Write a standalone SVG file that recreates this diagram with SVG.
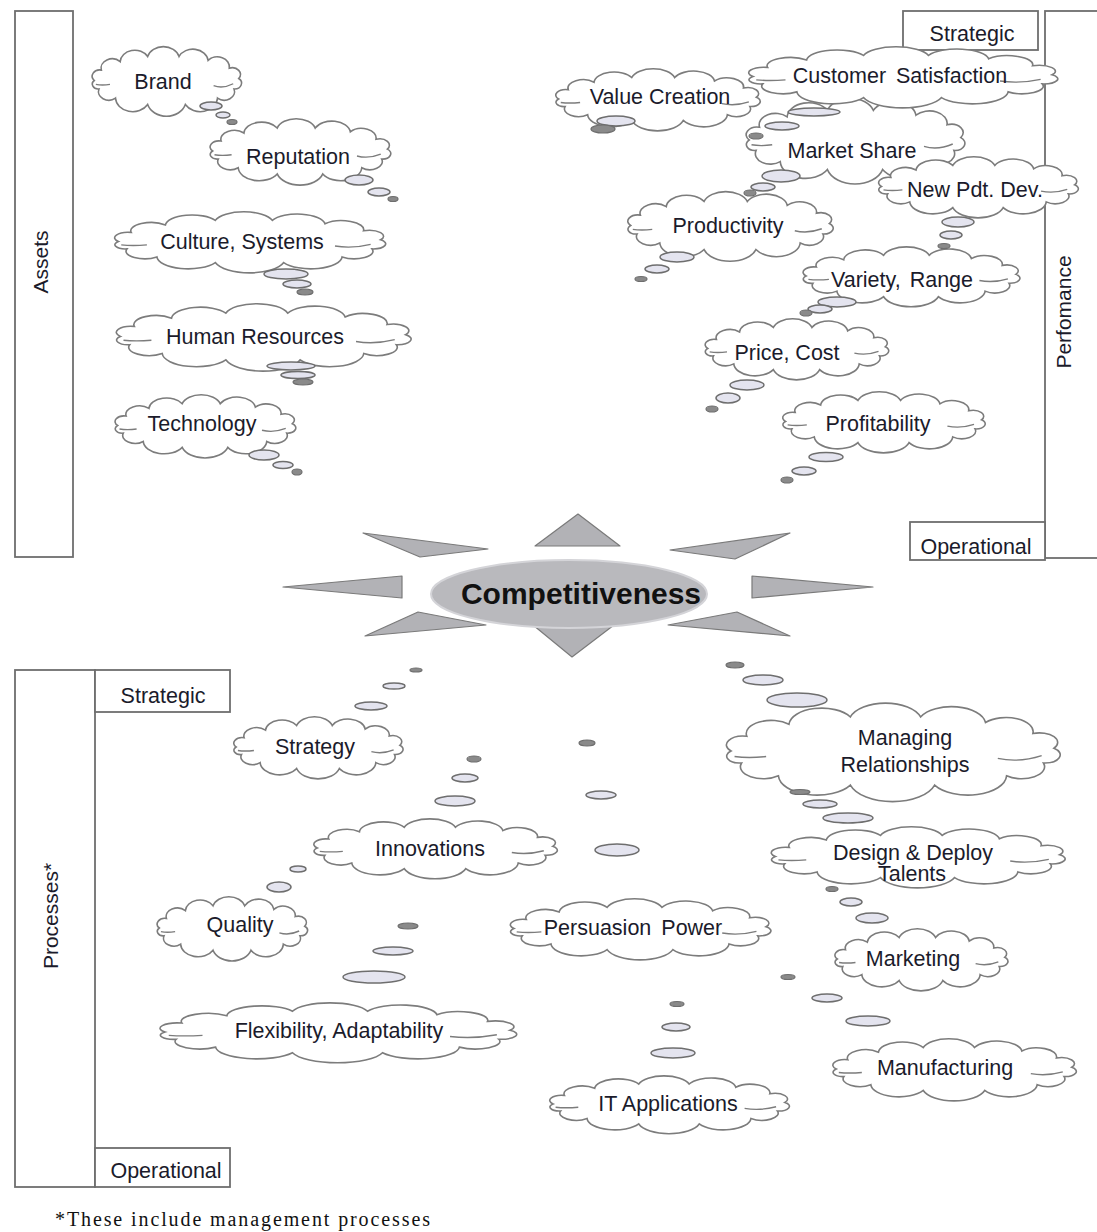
<svg xmlns="http://www.w3.org/2000/svg" xmlns:xlink="http://www.w3.org/1999/xlink" width="1097" height="1232" viewBox="0 0 1097 1232">
  <style>
    .frame { fill: none; stroke: #6e6e6e; stroke-width: 1.8; }
    .tag { fill: #ffffff; stroke: #6e6e6e; stroke-width: 1.8; }
    .lb { font-family: "Liberation Sans", Arial, sans-serif; font-size: 21.5px; fill: #1b1b2b; text-anchor: middle; }
    .vl { font-family: "Liberation Sans", Arial, sans-serif; font-size: 21px; fill: #1b1b2b; text-anchor: middle; }
    .ray { fill: #b2b2b6; stroke: #7a7a7a; stroke-width: 1.2; stroke-linejoin: round; }
    .hub { fill: #b9b9bd; stroke: #d4d4d8; stroke-width: 2; }
    .title { font-family: "Liberation Sans", Arial, sans-serif; font-size: 30px; font-weight: bold; fill: #111111; text-anchor: middle; }
    .note { font-family: "Liberation Serif", "Times New Roman", serif; font-size: 20px; fill: #111111; }
    .bub { fill: #e4e4ef; stroke: #6e6e6e; stroke-width: 1.5; }
    .dot { fill: #8a8a8a; stroke: #6e6e6e; stroke-width: 1.2; }
  </style>
  <defs>
    <!-- cloud outline in a 200 x 100 box; stroke stays constant when scaled -->
    <g id="cloud">
      <path fill="#ffffff" stroke="#7c7c7c" stroke-width="1.6" vector-effect="non-scaling-stroke"
            d="M 8 50 A 9.6 9.6 0 0 1 17 34 A 14.2 14.2 0 0 1 41 21 A 18.7 18.7 0 0 1 76 13 A 20.8 20.8 0 0 1 116 13 A 19.5 19.5 0 0 1 153 19 A 15.4 15.4 0 0 1 180 31 A 10.4 10.4 0 0 1 192 47 A 8.9 8.9 0 0 1 186 63 A 13.1 13.1 0 0 1 165 77 A 22 22 0 0 1 124 87 A 25 25 0 0 1 76 87 A 22 22 0 0 1 35 77 A 13.1 13.1 0 0 1 14 63 A 7.5 7.5 0 0 1 8 50 Z"/>
      <path fill="none" stroke="#7c7c7c" stroke-width="1.4" vector-effect="non-scaling-stroke"
            d="M 10 56 Q 18 58 28 56 M 160 58 Q 172 63 185 55"/>
    </g>
  </defs>

  <!-- side frames -->
  <g id="assets-frame">
    <rect class="frame" x="15" y="11" width="58" height="546"/>
    <text class="vl" transform="translate(40,262) rotate(-90)" dy="7.5">Assets</text>
  </g>
  <g id="performance-frame">
    <rect class="frame" x="1045" y="11" width="70" height="547"/>
    <rect class="tag" x="903" y="11" width="135" height="39"/>
    <text class="lb" x="972" y="41">Strategic</text>
    <rect class="tag" x="910" y="522" width="135" height="38"/>
    <text class="lb" x="976" y="554">Operational</text>
    <text class="vl" transform="translate(1063,312) rotate(-90)" dy="7.5">Perfomance</text>
  </g>
  <g id="processes-frame">
    <rect class="frame" x="15" y="670" width="80" height="517"/>
    <rect class="tag" x="95" y="670" width="135" height="42"/>
    <text class="lb" x="163" y="703">Strategic</text>
    <rect class="tag" x="95" y="1148" width="135" height="39"/>
    <text class="lb" x="166" y="1178">Operational</text>
    <text class="vl" transform="translate(50,916) rotate(-90)" dy="7.5">Processes*</text>
  </g>

  <!-- central hub with rays -->
  <g id="competitiveness">
    <polygon class="ray" points="578,514 535,546 620,546"/>
    <polygon class="ray" points="533,625 614,625 572,657"/>
    <polygon class="ray" points="283,587 402,576 402,598"/>
    <polygon class="ray" points="873,587 752,576 752,598"/>
    <polygon class="ray" points="363,533 488,549 420,557"/>
    <polygon class="ray" points="790,533 670,550 735,559"/>
    <polygon class="ray" points="365,636 418,612 486,625"/>
    <polygon class="ray" points="790,636 737,612 668,625"/>
    <ellipse class="hub" cx="569" cy="594" rx="138" ry="34"/>
    <text class="title" x="581" y="604">Competitiveness</text>
  </g>

  <!-- assets -->
  <g id="brand"><use xlink:href="#cloud" transform="translate(88,48) scale(0.785,0.65)"/><text class="lb" x="163" y="89">Brand</text></g>
  <g id="reputation"><use xlink:href="#cloud" transform="translate(205,120) scale(0.95,0.62)"/><text class="lb" x="298" y="164">Reputation</text></g>
  <g id="culture"><use xlink:href="#cloud" transform="translate(107,213) scale(1.425,0.57)"/><text class="lb" x="242" y="249">Culture, Systems</text></g>
  <g id="human-resources"><use xlink:href="#cloud" transform="translate(108,305) scale(1.55,0.63)"/><text class="lb" x="255" y="344">Human Resources</text></g>
  <g id="technology"><use xlink:href="#cloud" transform="translate(110,396) scale(0.95,0.59)"/><text class="lb" x="202" y="431">Technology</text></g>

  <!-- performance -->
  <g id="market-share"><use xlink:href="#cloud" transform="translate(740,100) scale(1.15,0.8)"/><text class="lb" x="852" y="158">Market Share</text></g>
  <g id="customer-satisfaction"><use xlink:href="#cloud" transform="translate(740,48) scale(1.625,0.57)"/><text class="lb" x="900" y="83" word-spacing="4">Customer Satisfaction</text></g>
  <g id="value-creation"><use xlink:href="#cloud" transform="translate(550,70) scale(1.075,0.58)"/><text class="lb" x="660" y="104">Value Creation</text></g>
  <g id="new-product"><use xlink:href="#cloud" transform="translate(873,158) scale(1.05,0.57)"/><text class="lb" x="975" y="197">New Pdt. Dev.</text></g>
  <g id="productivity"><use xlink:href="#cloud" transform="translate(622,193) scale(1.08,0.65)"/><text class="lb" x="728" y="233">Productivity</text></g>
  <g id="variety"><use xlink:href="#cloud" transform="translate(797,248) scale(1.14,0.56)"/><text class="lb" x="902" y="287" word-spacing="3">Variety, Range</text></g>
  <g id="price"><use xlink:href="#cloud" transform="translate(700,320) scale(0.965,0.57)"/><text class="lb" x="787" y="360">Price, Cost</text></g>
  <g id="profitability"><use xlink:href="#cloud" transform="translate(777,393) scale(1.065,0.57)"/><text class="lb" x="878" y="431">Profitability</text></g>

  <!-- processes -->
  <g id="strategy"><use xlink:href="#cloud" transform="translate(229,718) scale(0.89,0.58)"/><text class="lb" x="315" y="754">Strategy</text></g>
  <g id="innovations"><use xlink:href="#cloud" transform="translate(307,820) scale(1.28,0.56)"/><text class="lb" x="430" y="856">Innovations</text></g>
  <g id="quality"><use xlink:href="#cloud" transform="translate(153,898) scale(0.79,0.6)"/><text class="lb" x="240" y="932">Quality</text></g>
  <g id="flexibility"><use xlink:href="#cloud" transform="translate(150,1004) scale(1.875,0.56)"/><text class="lb" x="339" y="1038">Flexibility, Adaptability</text></g>
  <g id="persuasion"><use xlink:href="#cloud" transform="translate(503,900) scale(1.37,0.57)"/><text class="lb" x="633" y="935" word-spacing="4">Persuasion Power</text></g>
  <g id="it-applications"><use xlink:href="#cloud" transform="translate(543,1077) scale(1.26,0.54)"/><text class="lb" x="668" y="1111">IT Applications</text></g>
  <g id="relationships"><use xlink:href="#cloud" transform="translate(717,705) scale(1.755,0.92)"/><text class="lb" x="905" y="745">Managing</text><text class="lb" x="905" y="772">Relationships</text></g>
  <g id="talents"><use xlink:href="#cloud" transform="translate(763,828) scale(1.545,0.57)"/><text class="lb" x="913" y="860">Design &amp; Deploy</text><text class="lb" x="912" y="881">Talents</text></g>
  <g id="marketing"><use xlink:href="#cloud" transform="translate(830,930) scale(0.91,0.58)"/><text class="lb" x="913" y="966">Marketing</text></g>
  <g id="manufacturing"><use xlink:href="#cloud" transform="translate(826,1040) scale(1.28,0.58)"/><text class="lb" x="945" y="1075">Manufacturing</text></g>

  <!-- thought-bubble trails -->
  <g id="connectors">
    <ellipse class="bub" cx="211" cy="106" rx="11" ry="4"/><ellipse class="bub" cx="223" cy="115" rx="7" ry="3"/><ellipse class="dot" cx="232" cy="122" rx="5" ry="2.5"/>
    <ellipse class="bub" cx="359" cy="180" rx="14" ry="5"/><ellipse class="bub" cx="379" cy="192" rx="11" ry="4"/><ellipse class="dot" cx="393" cy="199" rx="5" ry="2.5"/>
    <ellipse class="bub" cx="286" cy="274" rx="22" ry="5"/><ellipse class="bub" cx="297" cy="284" rx="14" ry="4"/><ellipse class="dot" cx="305" cy="292" rx="8" ry="3"/>
    <ellipse class="bub" cx="291" cy="366" rx="24" ry="4"/><ellipse class="bub" cx="298" cy="375" rx="17" ry="3.5"/><ellipse class="dot" cx="303" cy="382" rx="10" ry="3"/>
    <ellipse class="bub" cx="264" cy="455" rx="15" ry="5"/><ellipse class="bub" cx="283" cy="465" rx="10" ry="3.5"/><ellipse class="dot" cx="297" cy="472" rx="5" ry="3"/>
    <ellipse class="bub" cx="616" cy="121" rx="19" ry="5"/><ellipse class="dot" cx="603" cy="129" rx="12" ry="4"/>
    <ellipse class="bub" cx="814" cy="112" rx="26" ry="4"/><ellipse class="bub" cx="782" cy="126" rx="17" ry="4"/><ellipse class="dot" cx="756" cy="136" rx="7" ry="3"/>
    <ellipse class="bub" cx="781" cy="176" rx="19" ry="6"/><ellipse class="bub" cx="763" cy="187" rx="12" ry="4"/><ellipse class="dot" cx="750" cy="193" rx="6" ry="3"/>
    <ellipse class="bub" cx="958" cy="222" rx="16" ry="5"/><ellipse class="bub" cx="951" cy="235" rx="11" ry="4"/><ellipse class="dot" cx="944" cy="246" rx="6" ry="2.5"/>
    <ellipse class="bub" cx="677" cy="257" rx="17" ry="5"/><ellipse class="bub" cx="657" cy="269" rx="12" ry="4"/><ellipse class="dot" cx="641" cy="279" rx="6" ry="2.5"/>
    <ellipse class="bub" cx="837" cy="302" rx="19" ry="5"/><ellipse class="bub" cx="820" cy="309" rx="12" ry="4"/><ellipse class="dot" cx="806" cy="313" rx="6" ry="3"/>
    <ellipse class="bub" cx="747" cy="385" rx="17" ry="5"/><ellipse class="bub" cx="728" cy="398" rx="12" ry="5"/><ellipse class="dot" cx="712" cy="409" rx="6" ry="3"/>
    <ellipse class="bub" cx="826" cy="457" rx="17" ry="4.5"/><ellipse class="bub" cx="804" cy="471" rx="12" ry="4"/><ellipse class="dot" cx="787" cy="480" rx="6" ry="3"/>
    <ellipse class="bub" cx="371" cy="706" rx="16" ry="4"/><ellipse class="bub" cx="394" cy="686" rx="11" ry="3"/><ellipse class="dot" cx="416" cy="670" rx="6" ry="2"/>
    <ellipse class="bub" cx="455" cy="801" rx="20" ry="5"/><ellipse class="bub" cx="465" cy="778" rx="13" ry="4"/><ellipse class="dot" cx="474" cy="759" rx="7" ry="3"/>
    <ellipse class="bub" cx="279" cy="887" rx="12" ry="5"/><ellipse class="bub" cx="298" cy="869" rx="8" ry="3"/>
    <ellipse class="bub" cx="374" cy="977" rx="31" ry="6"/><ellipse class="bub" cx="393" cy="951" rx="20" ry="4"/><ellipse class="dot" cx="408" cy="926" rx="10" ry="3"/>
    <ellipse class="bub" cx="617" cy="850" rx="22" ry="6"/><ellipse class="bub" cx="601" cy="795" rx="15" ry="4"/><ellipse class="dot" cx="587" cy="743" rx="8" ry="3"/>
    <ellipse class="bub" cx="673" cy="1053" rx="22" ry="5"/><ellipse class="bub" cx="676" cy="1027" rx="14" ry="4"/><ellipse class="dot" cx="677" cy="1004" rx="7" ry="2.5"/>
    <ellipse class="bub" cx="797" cy="700" rx="30" ry="7"/><ellipse class="bub" cx="763" cy="680" rx="20" ry="5"/><ellipse class="dot" cx="735" cy="665" rx="9" ry="3"/>
    <ellipse class="bub" cx="848" cy="818" rx="25" ry="5"/><ellipse class="bub" cx="820" cy="804" rx="17" ry="4"/><ellipse class="dot" cx="800" cy="792" rx="10" ry="2.5"/>
    <ellipse class="bub" cx="872" cy="918" rx="16" ry="5"/><ellipse class="bub" cx="851" cy="902" rx="11" ry="4"/><ellipse class="dot" cx="832" cy="889" rx="6" ry="2.5"/>
    <ellipse class="bub" cx="868" cy="1021" rx="22" ry="5"/><ellipse class="bub" cx="827" cy="998" rx="15" ry="4"/><ellipse class="dot" cx="788" cy="977" rx="7" ry="2.5"/>
  </g>

  <text class="note" x="55" y="1226" textLength="375" lengthAdjust="spacing">*These include management processes</text>
</svg>
